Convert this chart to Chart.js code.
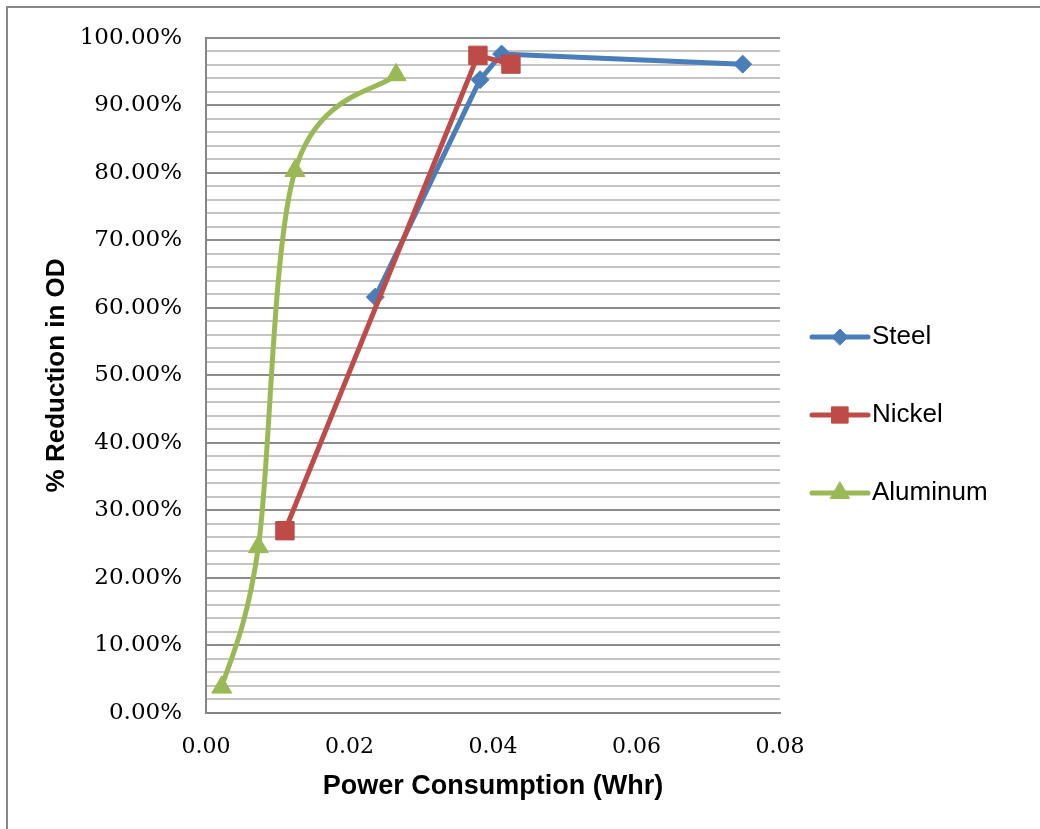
<!DOCTYPE html>
<html>
<head>
<meta charset="utf-8">
<script src="https://cdn.jsdelivr.net/npm/chart.js@4.4.1/dist/chart.umd.min.js"></script>
<style>
  html, body { margin: 0; padding: 0; background: #ffffff; }
  #wrap { width: 1040px; height: 829px; position: relative; }
</style>
</head>
<body>
<div id="wrap"><canvas id="chart" width="1040" height="829"></canvas></div>
<script>
// Power consumption (Whr) against % reduction in optical density
const seriesNames = ['Steel', 'Nickel', 'Aluminum'];

const steelX = [0.0236, 0.0382, 0.0412, 0.0748];
const steelY = [61.6, 93.8, 97.6, 96.1];

const nickelX = [0.0110, 0.0379, 0.0425];
const nickelY = [27.0, 97.4, 96.1];

const aluminumX = [0.0022, 0.0073, 0.0124, 0.0265];
const aluminumY = [3.8, 24.6, 80.3, 94.5];

const xTickValues = [0, 0.02, 0.04, 0.06, 0.08];
const yTickLabels = ['0.00%', '10.00%', '20.00%', '30.00%', '40.00%', '50.00%',
                     '60.00%', '70.00%', '80.00%', '90.00%', '100.00%'];

const colors = { Steel: '#4A7EBB', Nickel: '#BE4B48', Aluminum: '#98B954' };
const markers = {
  Steel:    { pointStyle: 'rectRot',  radius: 9,   legendRadius: 8 },
  Nickel:   { pointStyle: 'rect',     radius: 13,  legendRadius: 11.5 },
  Aluminum: { pointStyle: 'triangle', radius: 11.5, legendRadius: 11 }
};
const lineWidth = 5;

function toPoints(xs, ys) {
  return xs.map((x, i) => ({ x: x, y: ys[i] }));
}

function makeDataset(name, xs, ys, extra) {
  const c = colors[name];
  return Object.assign({
    label: name,
    data: toPoints(xs, ys),
    borderColor: c,
    backgroundColor: c,
    pointBackgroundColor: c,
    pointBorderColor: c,
    pointBorderWidth: 1,
    pointStyle: markers[name].pointStyle,
    pointRadius: markers[name].radius,
    pointHoverRadius: markers[name].radius,
    borderWidth: lineWidth,
    borderCapStyle: 'round',
    borderJoinStyle: 'round',
    showLine: true,
    fill: false,
    tension: 0
  }, extra || {});
}

// White page and the grey frame around the whole chart
const framePlugin = {
  id: 'frame',
  beforeDraw(chart) {
    const ctx = chart.ctx;
    ctx.save();
    ctx.fillStyle = '#ffffff';
    ctx.fillRect(0, 0, chart.width, chart.height);
    ctx.strokeStyle = '#888888';
    ctx.lineWidth = 2;
    ctx.strokeRect(7, 7, chart.width + 40, chart.height + 40);
    ctx.restore();
  }
};

// Uniform Catmull-Rom smoothing (control arms of 1/6 of the neighbour chord)
// for datasets flagged with `smoothCR`, replacing Chart.js's distance-weighted spline.
const catmullRomSmoothing = {
  id: 'catmullRomSmoothing',
  beforeDatasetDraw(chart, args) {
    const ds = chart.data.datasets[args.index];
    if (!ds.smoothCR) return;
    const line = args.meta.dataset;
    line.updateControlPoints(chart.chartArea, 'x');
    const pts = args.meta.data;
    const n = pts.length;
    for (let i = 0; i < n; i++) {
      const p = pts[i];
      const prev = pts[Math.max(i - 1, 0)];
      const next = pts[Math.min(i + 1, n - 1)];
      const dx = (next.x - prev.x) / 6;
      const dy = (next.y - prev.y) / 6;
      p.cp1x = p.x - dx;
      p.cp1y = p.y - dy;
      p.cp2x = p.x + dx;
      p.cp2y = p.y + dy;
    }
  }
};

// Legend on the right: a line sample with its marker, then the series name
const sideLegend = {
  id: 'sideLegend',
  afterDraw(chart) {
    const ctx = chart.ctx;
    const x0 = 812, x1 = 868, xm = 840, textX = 872;
    const yStart = 337, gap = 78;
    ctx.save();
    seriesNames.forEach((name, i) => {
      const y = yStart + i * gap;
      const c = colors[name];
      ctx.strokeStyle = c;
      ctx.fillStyle = c;
      ctx.lineWidth = lineWidth;
      ctx.lineCap = 'round';
      ctx.beginPath();
      ctx.moveTo(x0, y);
      ctx.lineTo(x1, y);
      ctx.stroke();
      ctx.lineWidth = 1;
      Chart.helpers.drawPoint(ctx, {
        pointStyle: markers[name].pointStyle,
        radius: markers[name].legendRadius,
        rotation: 0,
        borderWidth: 1
      }, xm, y);
      ctx.fillStyle = '#000000';
      ctx.font = '26px "Liberation Sans", Arial, sans-serif';
      ctx.textAlign = 'left';
      ctx.textBaseline = 'middle';
      ctx.fillText(name, textX, y);
    });
    ctx.restore();
  }
};

const serifFont = '"DejaVu Serif", Cambria, serif';
const sansFont = '"Liberation Sans", Arial, sans-serif';

new Chart(document.getElementById('chart'), {
  type: 'line',
  data: {
    datasets: [
      makeDataset('Steel', steelX, steelY, { order: 3 }),
      makeDataset('Nickel', nickelX, nickelY, { order: 2 }),
      makeDataset('Aluminum', aluminumX, aluminumY, { order: 1, tension: 0.4, smoothCR: true })
    ]
  },
  options: {
    responsive: false,
    devicePixelRatio: 1,
    animation: false,
    layout: { padding: { left: 0, top: 35, right: 260, bottom: 0 } },
    plugins: {
      legend: { display: false },
      tooltip: { enabled: false }
    },
    scales: {
      x: {
        type: 'linear',
        min: xTickValues[0],
        max: xTickValues[xTickValues.length - 1],
        afterBuildTicks(scale) {
          scale.ticks = xTickValues.map(v => ({ value: v }));
        },
        afterFit(scale) { scale.height = 116; },
        ticks: {
          callback: v => Number(v).toFixed(2),
          font: { family: serifFont, size: 22 },
          color: '#000000',
          padding: 21,
          maxRotation: 0,
          autoSkip: false
        },
        grid: { display: false, drawTicks: false },
        border: { display: true, color: '#868686', width: 2 },
        title: {
          display: true,
          text: 'Power Consumption (Whr)',
          font: { family: sansFont, size: 27, weight: 'bold' },
          color: '#000000',
          padding: { top: 0, bottom: 26 }
        }
      },
      y: {
        type: 'linear',
        min: 0,
        max: 100,
        afterFit(scale) { scale.width = 206; },
        ticks: {
          stepSize: 2,
          autoSkip: false,
          callback: v => (v % 10 === 0 ? yTickLabels[v / 10] : ''),
          font: { family: serifFont, size: 23 },
          color: '#000000',
          padding: 24
        },
        grid: {
          drawTicks: false,
          lineWidth: 2,
          color: ctx => (ctx.tick && ctx.tick.value % 10 === 0 ? '#8c8c8c' : '#c4c4c4')
        },
        border: { display: true, color: '#868686', width: 2 },
        title: {
          display: true,
          text: '% Reduction in OD',
          font: { family: sansFont, size: 26, weight: 'bold' },
          color: '#000000',
          padding: { top: 41, bottom: 0 }
        }
      }
    }
  },
  plugins: [framePlugin, catmullRomSmoothing, sideLegend]
});
</script>
</body>
</html>
